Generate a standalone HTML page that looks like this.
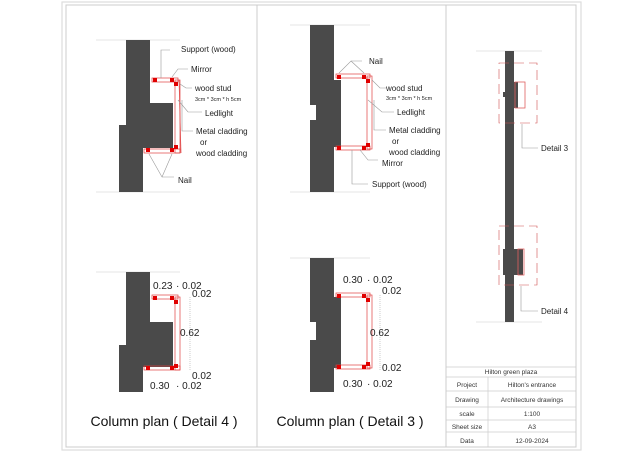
<!DOCTYPE html>
<html><head><meta charset="utf-8"><style>
html,body{margin:0;padding:0;background:#fff;}
svg{display:block;font-family:"Liberation Sans",Arial,sans-serif;}
</style></head><body>
<svg width="640" height="453" viewBox="0 0 640 453" xmlns="http://www.w3.org/2000/svg">
<rect x="62" y="2" width="519" height="448" fill="none" stroke="#ddd" stroke-width="1.2"/>
<rect x="66" y="5" width="510" height="442" fill="none" stroke="#ccc" stroke-width="1"/>
<line x1="257" y1="5" x2="257" y2="447" stroke="#ccc"/>
<line x1="446" y1="5" x2="446" y2="447" stroke="#ccc"/>

<!-- Detail 4 top -->
<g>
<line x1="96" y1="40" x2="180" y2="40" stroke="#ddd" stroke-width="0.8"/>
<line x1="96" y1="192" x2="180" y2="192" stroke="#ddd" stroke-width="0.8"/>
<polygon points="126,40 150,40 150,103 173,103 173,148 143,148 143,192 119,192 119,125 126,125" fill="#4a4a4a"/>
<g fill="none" stroke="#e04040" stroke-width="0.7">
<rect x="152" y="78" width="26" height="4"/><rect x="175" y="80" width="5" height="73"/><rect x="144" y="149" width="36" height="4"/>
<line x1="179" y1="80" x2="181" y2="153"/>
</g>
<g fill="#e00000"><rect x="153" y="78" width="4" height="4"/><rect x="170" y="78" width="4" height="4"/><rect x="174" y="82" width="4" height="4"/><rect x="146" y="148" width="4" height="4"/><rect x="170" y="148" width="4" height="4"/><rect x="174" y="145" width="4" height="4"/></g>
<g fill="none" stroke="#999" stroke-width="0.6">
<polyline points="161,78 161,50 170,50"/><polyline points="172,77 178,69 188,69"/>
<polyline points="180,84 186,88 192,88"/><polyline points="178,100 188,112 202,112"/>
<polyline points="182,100 182,131 193,131"/><polyline points="149,154 162,177 174,177"/><line x1="172" y1="154" x2="162" y2="177"/>
</g>
<g font-size="8" fill="#222">
<text x="181" y="52">Support (wood)</text><text x="191" y="72">Mirror</text>
<text x="195" y="91">wood stud</text><text x="195" y="101" font-size="5.5">3cm * 3cm * h 5cm</text>
<text x="205" y="116">Ledlight</text><text x="196" y="134">Metal cladding</text>
<text x="200" y="145">or</text><text x="196" y="156">wood cladding</text><text x="178" y="183">Nail</text>
</g>
</g>

<!-- Detail 4 bottom -->
<g>
<line x1="96" y1="272" x2="180" y2="272" stroke="#ddd" stroke-width="0.8"/>
<polygon points="126,272 150,272 150,322 173,322 173,367 143,367 143,392 119,392 119,345 126,345" fill="#4a4a4a"/>
<g fill="none" stroke="#e04040" stroke-width="0.7">
<rect x="152" y="295" width="26" height="4"/><rect x="175" y="297" width="5" height="73"/><rect x="144" y="366" width="36" height="4"/>
</g>
<g fill="#e00000"><rect x="153" y="296" width="4" height="4"/><rect x="170" y="296" width="4" height="4"/><rect x="174" y="300" width="4" height="4"/><rect x="146" y="366" width="4" height="4"/><rect x="170" y="366" width="4" height="4"/><rect x="174" y="364" width="4" height="4"/></g>
<line x1="190" y1="297" x2="190" y2="370" stroke="#aaa" stroke-width="0.6" stroke-dasharray="1,1"/>
<g font-size="10" fill="#222">
<text x="153" y="289">0.23</text><text x="176" y="289">· 0.02</text><text x="192" y="297">0.02</text>
<text x="180" y="336">0.62</text><text x="192" y="379">0.02</text>
<text x="150" y="389">0.30</text><text x="176" y="389">· 0.02</text>
</g>
<text x="164" y="426" font-size="14" text-anchor="middle" fill="#111">Column plan ( Detail 4 )</text>
</g>

<!-- Detail 3 top -->
<g>
<line x1="290" y1="25" x2="370" y2="25" stroke="#ddd" stroke-width="0.8"/>
<line x1="290" y1="192" x2="370" y2="192" stroke="#ddd" stroke-width="0.8"/>
<polygon points="310,25 334,25 334,80 341,80 341,147 334,147 334,192 310,192 310,120 316,120 316,105 310,105" fill="#4a4a4a"/>
<g fill="none" stroke="#e04040" stroke-width="0.7">
<rect x="336" y="74" width="34" height="4"/><rect x="367" y="76" width="5" height="73"/><rect x="336" y="146" width="34" height="4"/>
</g>
<g fill="#e00000"><rect x="337" y="75" width="4" height="4"/><rect x="362" y="75" width="4" height="4"/><rect x="366" y="79" width="4" height="4"/><rect x="337" y="146" width="4" height="4"/><rect x="362" y="146" width="4" height="4"/><rect x="366" y="143" width="4" height="4"/></g>
<g fill="none" stroke="#999" stroke-width="0.6">
<polyline points="339,73 351,61 362,61"/><line x1="364" y1="73" x2="351" y2="61"/>
<polyline points="372,80 380,88 386,88"/><polyline points="368,100 382,112 394,112"/>
<polyline points="374,100 374,130 386,130"/><polyline points="360,150 368,160 378,160"/>
<polyline points="352,150 352,184 368,184"/>
</g>
<g font-size="8" fill="#222">
<text x="369" y="64">Nail</text><text x="386" y="91">wood stud</text><text x="386" y="100" font-size="5.5">3cm * 3cm * h 5cm</text>
<text x="397" y="115">Ledlight</text><text x="389" y="133">Metal cladding</text><text x="392" y="144">or</text>
<text x="389" y="155">wood cladding</text><text x="382" y="166">Mirror</text><text x="372" y="187">Support (wood)</text>
</g>
</g>

<!-- Detail 3 bottom -->
<g>
<line x1="290" y1="258" x2="370" y2="258" stroke="#ddd" stroke-width="0.8"/>
<polygon points="310,258 334,258 334,297 341,297 341,368 334,368 334,392 310,392 310,340 316,340 316,322 310,322" fill="#4a4a4a"/>
<g fill="none" stroke="#e04040" stroke-width="0.7">
<rect x="336" y="293" width="34" height="4"/><rect x="367" y="295" width="5" height="73"/><rect x="336" y="365" width="34" height="4"/>
</g>
<g fill="#e00000"><rect x="337" y="294" width="4" height="4"/><rect x="362" y="294" width="4" height="4"/><rect x="366" y="298" width="4" height="4"/><rect x="337" y="365" width="4" height="4"/><rect x="362" y="365" width="4" height="4"/><rect x="366" y="362" width="4" height="4"/></g>
<line x1="380" y1="295" x2="380" y2="370" stroke="#aaa" stroke-width="0.6" stroke-dasharray="1,1"/>
<g font-size="10" fill="#222">
<text x="343" y="283">0.30</text><text x="367" y="283">· 0.02</text><text x="382" y="294">0.02</text>
<text x="370" y="336">0.62</text><text x="382" y="371">0.02</text>
<text x="343" y="387">0.30</text><text x="367" y="387">· 0.02</text>
</g>
<text x="350" y="426" font-size="14" text-anchor="middle" fill="#111">Column plan ( Detail 3 )</text>
</g>

<!-- Elevation -->
<g>
<line x1="476" y1="51" x2="542" y2="51" stroke="#ddd" stroke-width="0.8"/>
<line x1="476" y1="322" x2="542" y2="322" stroke="#ddd" stroke-width="0.8"/>
<polygon points="505,51 514,51 514,82 518,82 518,108 514,108 514,249 523,249 523,275 514,275 514,322 505,322 505,275 503,275 503,249 505,249 505,97 503,97 503,92 505,92" fill="#4a4a4a"/>
<rect x="515" y="82" width="10" height="26" fill="none" stroke="#e06060" stroke-width="0.8"/>
<rect x="518" y="249" width="6" height="26" fill="none" stroke="#e06060" stroke-width="0.8"/>
<rect x="499" y="63" width="38" height="60" fill="none" stroke="#d05050" stroke-width="0.6" stroke-dasharray="10,5"/>
<rect x="499" y="226" width="38" height="59" fill="none" stroke="#d05050" stroke-width="0.6" stroke-dasharray="10,5"/>
<polyline points="522,124 522,148 538,148" fill="none" stroke="#999" stroke-width="0.6"/>
<polyline points="521,286 521,311 538,311" fill="none" stroke="#999" stroke-width="0.6"/>
<text x="541" y="151" font-size="8" fill="#222">Detail 3</text>
<text x="541" y="314" font-size="8" fill="#222">Detail 4</text>
</g>

<!-- Table -->
<g stroke="#ccc" stroke-width="0.7" fill="none">
<line x1="446" y1="367" x2="576" y2="367"/><line x1="446" y1="377" x2="576" y2="377"/>
<line x1="446" y1="391" x2="576" y2="391"/><line x1="446" y1="407" x2="576" y2="407"/>
<line x1="446" y1="420" x2="576" y2="420"/><line x1="446" y1="432" x2="576" y2="432"/>
<line x1="488" y1="377" x2="488" y2="447"/>
</g>
<g font-size="6.5" fill="#333" text-anchor="middle">
<text x="511" y="374">Hilton green plaza</text>
<text x="467" y="387">Project</text><text x="532" y="387">Hilton's entrance</text>
<text x="467" y="402">Drawing</text><text x="532" y="402">Architecture drawings</text>
<text x="467" y="416">scale</text><text x="532" y="416">1:100</text>
<text x="467" y="429">Sheet size</text><text x="532" y="429">A3</text>
<text x="467" y="443">Data</text><text x="532" y="443">12-09-2024</text>
</g>
</svg>
</body></html>
